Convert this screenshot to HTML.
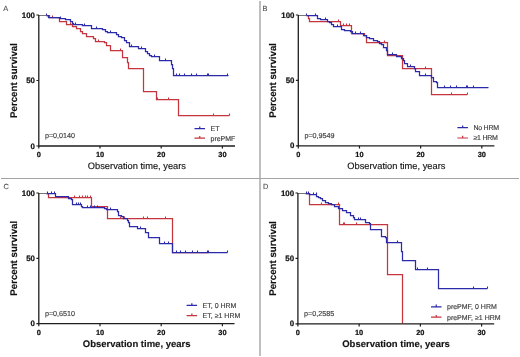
<!DOCTYPE html><html><head><meta charset="utf-8"><style>html,body{margin:0;padding:0;background:#fff;}svg{display:block;will-change:transform;}text{font-family:"Liberation Sans",sans-serif;text-rendering:geometricPrecision;}
.pl{font-size:7.4px;fill:#505050;stroke:#505050;stroke-width:0.12px;}
.yl{font-size:7.9px;font-weight:bold;fill:#111;text-anchor:end;stroke:#111;stroke-width:0.22px;}
.xl{font-size:7.4px;font-weight:bold;fill:#111;text-anchor:middle;stroke:#111;stroke-width:0.22px;}
.yt{font-size:9.7px;font-weight:bold;fill:#111;text-anchor:middle;stroke:#111;stroke-width:0.15px;}
.xt{font-size:9.3px;fill:#151515;text-anchor:middle;stroke:#151515;stroke-width:0.15px;}
.xtb{font-size:9.5px;font-weight:bold;fill:#151515;text-anchor:middle;stroke:#151515;stroke-width:0.15px;}
.pv{font-size:7.2px;fill:#404040;stroke:#404040;stroke-width:0.15px;}
.lg{font-size:7px;fill:#3c3c3c;stroke:#3c3c3c;stroke-width:0.15px;}</style></head><body>
<svg width="520" height="357" viewBox="0 0 520 357">
<rect width="520" height="357" fill="#fff"/>
<rect x="259" y="1" width="2" height="355" fill="#bfbfbf"/>
<rect x="1" y="178" width="518" height="1" fill="#a4a4a4"/>
<text class="pl" x="3.3" y="10.8">A</text>
<path d="M46.5 15.5L49.5 15.5L49.5 17.5L59.5 17.5L59.5 21.5L66.5 21.5L66.5 24.5L72.5 24.5L72.5 26.5L76.5 26.5L76.5 28.5L80.5 28.5L80.5 31.5L82.5 31.5L82.5 33.5L86.5 33.5L86.5 36.5L93.5 36.5L93.5 38.5L95.5 38.5L95.5 41.5L104.5 41.5L104.5 42.5L106.5 42.5L106.5 45.5L110.5 45.5L110.5 50.5L122.5 50.5L122.5 57.5L127.5 57.5L127.5 62.5L128.5 62.5L128.5 68.5L143.5 68.5L143.5 91.5L156.5 91.5L156.5 99.5L178.5 99.5L178.5 115.5L229.5 115.5" fill="none" stroke="#c6343e" stroke-width="1.25" stroke-linejoin="miter"/>
<path d="M157.5 99.5V97.4M168.5 99.5V97.4M213.5 115.5V113.4M229.5 115.5V113.4M52.5 17.5V15.4M70.5 24.5V22.4M98.5 41.5V39.4M120.5 50.5V48.4" stroke="#c6343e" stroke-width="1.1" fill="none"/>
<path d="M46.5 15.5L48.5 15.5L48.5 17.5L59.5 17.5L59.5 18.5L65.5 18.5L65.5 19.5L70.5 19.5L70.5 21.5L72.5 21.5L72.5 23.5L73.5 23.5L73.5 24.5L82.5 24.5L82.5 25.5L91.5 25.5L91.5 28.5L102.5 28.5L102.5 29.5L105.5 29.5L105.5 31.5L107.5 31.5L107.5 32.5L116.5 32.5L116.5 34.5L118.5 34.5L118.5 36.5L121.5 36.5L121.5 37.5L124.5 37.5L124.5 40.5L126.5 40.5L126.5 42.5L129.5 42.5L129.5 46.5L138.5 46.5L138.5 48.5L145.5 48.5L145.5 51.5L147.5 51.5L147.5 53.5L149.5 53.5L149.5 55.5L151.5 55.5L151.5 56.5L159.5 56.5L159.5 60.5L171.5 60.5L171.5 64.5L172.5 64.5L172.5 68.5L173.5 68.5L173.5 75.5L228.5 75.5" fill="none" stroke="#2a2aaa" stroke-width="1.25" stroke-linejoin="miter"/>
<path d="M46.5 15.5V13.4M176.5 75.5V73.4M179.5 75.5V73.4M184.5 75.5V73.4M191.5 75.5V73.4M196.5 75.5V73.4M207.5 75.5V73.4M208.5 75.5V73.4M227.5 75.5V73.4M60.5 18.5V16.4M75.5 24.5V22.4M84.5 25.5V23.4M96.5 28.5V26.4M110.5 32.5V30.4M131.5 46.5V44.4M141.5 48.5V46.4M154.5 56.5V54.4M165.5 60.5V58.4" stroke="#2a2aaa" stroke-width="1.1" fill="none"/>
<path d="M38.8 15.5H46" stroke="#4a4a4a" stroke-width="0.75" fill="none"/>
<path d="M38.8 15V146H235" fill="none" stroke="#1e1e1e" stroke-width="1.3"/>
<path d="M36.4 146H38.8M36.4 80.5H38.8M36.4 15H38.8M38.8 146V148.6M100 146V148.6M161.2 146V148.6M222.4 146V148.6" stroke="#1e1e1e" stroke-width="1.2" fill="none"/>
<text class="yl" x="35" y="148.6">0</text>
<text class="yl" x="35" y="83.1">50</text>
<text class="yl" x="35" y="17.6">100</text>
<text class="xl" x="38.8" y="157.3">0</text>
<text class="xl" x="100" y="157.3">10</text>
<text class="xl" x="161.2" y="157.3">20</text>
<text class="xl" x="222.4" y="157.3">30</text>
<text class="yt" transform="translate(16.8 80.5) rotate(-90)">Percent survival</text>
<text class="xt" x="136.9" y="169.2">Observation time, years</text>
<text class="pv" x="44.9" y="138.3">p=0,0140</text>
<path d="M194.5 128.6H205M199.75 128.6V126.4" stroke="#2a2aaa" stroke-width="1.2" fill="none"/>
<text class="lg" x="210.5" y="131">ET</text>
<path d="M194.5 138.2H205M199.75 138.2V136" stroke="#c6343e" stroke-width="1.2" fill="none"/>
<text class="lg" x="210.5" y="140.6">prePMF</text>
<text class="pl" x="262.5" y="10.8">B</text>
<path d="M306.5 15.5L308.5 15.5L308.5 18.5L309.5 18.5L309.5 21.5L340.5 21.5L340.5 25.5L351.5 25.5L351.5 33.5L364.5 33.5L364.5 35.5L366.5 35.5L366.5 42.5L387.5 42.5L387.5 55.5L402.5 55.5L402.5 68.5L431.5 68.5L431.5 94.5L467.5 94.5" fill="none" stroke="#c6343e" stroke-width="1.25" stroke-linejoin="miter"/>
<path d="M338.5 21.5V19.4M343.5 25.5V23.4M346.5 25.5V23.4M349.5 25.5V23.4M384.5 42.5V40.4M425.5 68.5V66.4M451.5 94.5V92.4M467.5 94.5V92.4" stroke="#c6343e" stroke-width="1.1" fill="none"/>
<path d="M306.5 15.5L307.5 15.5L307.5 15.5L317.5 15.5L317.5 18.5L320.5 18.5L320.5 19.5L327.5 19.5L327.5 21.5L329.5 21.5L329.5 22.5L331.5 22.5L331.5 24.5L333.5 24.5L333.5 26.5L341.5 26.5L341.5 29.5L344.5 29.5L344.5 30.5L350.5 30.5L350.5 31.5L352.5 31.5L352.5 33.5L363.5 33.5L363.5 35.5L366.5 35.5L366.5 37.5L369.5 37.5L369.5 38.5L373.5 38.5L373.5 40.5L377.5 40.5L377.5 41.5L379.5 41.5L379.5 43.5L381.5 43.5L381.5 44.5L383.5 44.5L383.5 47.5L386.5 47.5L386.5 50.5L387.5 50.5L387.5 54.5L396.5 54.5L396.5 56.5L401.5 56.5L401.5 58.5L403.5 58.5L403.5 60.5L404.5 60.5L404.5 63.5L407.5 63.5L407.5 66.5L414.5 66.5L414.5 68.5L415.5 68.5L415.5 71.5L419.5 71.5L419.5 75.5L431.5 75.5L431.5 77.5L433.5 77.5L433.5 81.5L436.5 81.5L436.5 82.5L437.5 82.5L437.5 87.5L488.5 87.5" fill="none" stroke="#2a2aaa" stroke-width="1.25" stroke-linejoin="miter"/>
<path d="M306.5 15.5V13.4M444.5 87.5V85.4M450.5 87.5V85.4M456.5 87.5V85.4M466.5 87.5V85.4M467.5 87.5V85.4M473.5 87.5V85.4M315.5 15.5V13.4M325.5 19.5V17.4M337.5 26.5V24.4M355.5 33.5V31.4M360.5 33.5V31.4M392.5 54.5V52.4M410.5 66.5V64.4M425.5 75.5V73.4" stroke="#2a2aaa" stroke-width="1.1" fill="none"/>
<path d="M298.3 15.5H306" stroke="#4a4a4a" stroke-width="0.75" fill="none"/>
<path d="M298.3 15V145.8H494.4" fill="none" stroke="#1e1e1e" stroke-width="1.3"/>
<path d="M295.9 145.8H298.3M295.9 80.4H298.3M295.9 15H298.3M298.3 145.8V148.4M359.47 145.8V148.4M420.63 145.8V148.4M481.8 145.8V148.4" stroke="#1e1e1e" stroke-width="1.2" fill="none"/>
<text class="yl" x="294.5" y="148.4">0</text>
<text class="yl" x="294.5" y="83">50</text>
<text class="yl" x="294.5" y="17.6">100</text>
<text class="xl" x="298.3" y="157.1">0</text>
<text class="xl" x="359.47" y="157.1">10</text>
<text class="xl" x="420.63" y="157.1">20</text>
<text class="xl" x="481.8" y="157.1">30</text>
<text class="yt" transform="translate(276.3 80.4) rotate(-90)">Percent survival</text>
<text class="xt" x="396.35" y="169">Observation time, years</text>
<text class="pv" x="304.4" y="138.1">p=0,9549</text>
<path d="M457.4 127.6H467.9M462.65 127.6V125.4" stroke="#2a2aaa" stroke-width="1.2" fill="none"/>
<text class="lg" x="473.4" y="130" style="letter-spacing:-0.22px">No HRM</text>
<path d="M457.4 138H467.9M462.65 138V135.8" stroke="#c6343e" stroke-width="1.2" fill="none"/>
<text class="lg" x="473.4" y="140.4" style="letter-spacing:-0.22px">≥1 HRM</text>
<text class="pl" x="3.6" y="188.8">C</text>
<path d="M46.5 193.5L48.5 193.5L48.5 197.5L91.5 197.5L91.5 206.5L107.5 206.5L107.5 218.5L172.5 218.5L172.5 252.5L208.5 252.5" fill="none" stroke="#c6343e" stroke-width="1.25" stroke-linejoin="miter"/>
<path d="M74.5 197.5V195.4M79.5 197.5V195.4M82.5 197.5V195.4M85.5 197.5V195.4M87.5 197.5V195.4M90.5 197.5V195.4M143.5 218.5V216.4M147.5 218.5V216.4M165.5 218.5V216.4M120.5 218.5V216.4M124.5 218.5V216.4" stroke="#c6343e" stroke-width="1.1" fill="none"/>
<path d="M46.5 193.5L48.5 193.5L48.5 193.5L55.5 193.5L55.5 196.5L68.5 196.5L68.5 198.5L71.5 198.5L71.5 199.5L72.5 199.5L72.5 204.5L81.5 204.5L81.5 206.5L82.5 206.5L82.5 207.5L104.5 207.5L104.5 208.5L106.5 208.5L106.5 209.5L117.5 209.5L117.5 211.5L118.5 211.5L118.5 215.5L121.5 215.5L121.5 216.5L123.5 216.5L123.5 218.5L127.5 218.5L127.5 220.5L128.5 220.5L128.5 222.5L129.5 222.5L129.5 226.5L137.5 226.5L137.5 228.5L145.5 228.5L145.5 232.5L148.5 232.5L148.5 237.5L159.5 237.5L159.5 243.5L172.5 243.5L172.5 252.5L227.5 252.5" fill="none" stroke="#2a2aaa" stroke-width="1.25" stroke-linejoin="miter"/>
<path d="M47.5 193.5V191.4M176.5 252.5V250.4M180.5 252.5V250.4M185.5 252.5V250.4M192.5 252.5V250.4M197.5 252.5V250.4M207.5 252.5V250.4M208.5 252.5V250.4M227.5 252.5V250.4M51.5 193.5V191.4M54.5 193.5V191.4M76.5 204.5V202.4M78.5 204.5V202.4M80.5 204.5V202.4M87.5 207.5V205.4M90.5 207.5V205.4M94.5 207.5V205.4M97.5 207.5V205.4M110.5 209.5V207.4M140.5 228.5V226.4M164.5 243.5V241.4M168.5 243.5V241.4" stroke="#2a2aaa" stroke-width="1.1" fill="none"/>
<path d="M38.8 193.5H46.5" stroke="#4a4a4a" stroke-width="0.75" fill="none"/>
<path d="M38.8 193V323.6H234.5" fill="none" stroke="#1e1e1e" stroke-width="1.3"/>
<path d="M36.4 323.6H38.8M36.4 258.3H38.8M36.4 193H38.8M38.8 323.6V326.2M100 323.6V326.2M161.2 323.6V326.2M222.4 323.6V326.2" stroke="#1e1e1e" stroke-width="1.2" fill="none"/>
<text class="yl" x="35" y="326.2">0</text>
<text class="yl" x="35" y="260.9">50</text>
<text class="yl" x="35" y="195.6">100</text>
<text class="xl" x="38.8" y="334.9">0</text>
<text class="xl" x="100" y="334.9">10</text>
<text class="xl" x="161.2" y="334.9">20</text>
<text class="xl" x="222.4" y="334.9">30</text>
<text class="yt" transform="translate(16.8 258.3) rotate(-90)">Percent survival</text>
<text class="xtb" x="136.65" y="346.8">Observation time, years</text>
<text class="pv" x="44.9" y="315.9">p=0,6510</text>
<path d="M186.6 305.4H197.1M191.85 305.4V303.2" stroke="#2a2aaa" stroke-width="1.2" fill="none"/>
<text class="lg" x="202.6" y="307.8">ET, 0 HRM</text>
<path d="M186.6 315.6H197.1M191.85 315.6V313.4" stroke="#c6343e" stroke-width="1.2" fill="none"/>
<text class="lg" x="202.6" y="318">ET, ≥1 HRM</text>
<text class="pl" x="263" y="188.8">D</text>
<path d="M305.5 193.5L309.5 193.5L309.5 204.5L339.5 204.5L339.5 224.5L387.5 224.5L387.5 274.5L402.5 274.5L402.5 323.5" fill="none" stroke="#c6343e" stroke-width="1.25" stroke-linejoin="miter"/>
<path d="M321.5 204.5V202.4M328.5 204.5V202.4M338.5 204.5V202.4M343.5 224.5V222.4M344.5 224.5V222.4M356.5 224.5V222.4" stroke="#c6343e" stroke-width="1.1" fill="none"/>
<path d="M305.5 193.5L309.5 193.5L309.5 194.5L316.5 194.5L316.5 196.5L318.5 196.5L318.5 197.5L320.5 197.5L320.5 198.5L322.5 198.5L322.5 200.5L325.5 200.5L325.5 202.5L328.5 202.5L328.5 203.5L331.5 203.5L331.5 204.5L334.5 204.5L334.5 206.5L338.5 206.5L338.5 208.5L342.5 208.5L342.5 210.5L346.5 210.5L346.5 212.5L350.5 212.5L350.5 215.5L353.5 215.5L353.5 217.5L354.5 217.5L354.5 219.5L365.5 219.5L365.5 222.5L369.5 222.5L369.5 223.5L370.5 223.5L370.5 229.5L381.5 229.5L381.5 236.5L385.5 236.5L385.5 237.5L386.5 237.5L386.5 242.5L401.5 242.5L401.5 251.5L402.5 251.5L402.5 260.5L415.5 260.5L415.5 269.5L438.5 269.5L438.5 288.5L487.5 288.5" fill="none" stroke="#2a2aaa" stroke-width="1.25" stroke-linejoin="miter"/>
<path d="M306.5 193.5V191.4M308.5 193.5V191.4M313.5 194.5V192.4M316.5 194.5V192.4M358.5 219.5V217.4M360.5 219.5V217.4M397.5 242.5V240.4M417.5 269.5V267.4M427.5 269.5V267.4M473.5 288.5V286.4M487.5 288.5V286.4" stroke="#2a2aaa" stroke-width="1.1" fill="none"/>
<path d="M297.9 193.5H305" stroke="#4a4a4a" stroke-width="0.75" fill="none"/>
<path d="M297.9 193V323.8H494.2" fill="none" stroke="#1e1e1e" stroke-width="1.3"/>
<path d="M295.5 323.8H297.9M295.5 258.4H297.9M295.5 193H297.9M297.9 323.8V326.4M359.13 323.8V326.4M420.37 323.8V326.4M481.6 323.8V326.4" stroke="#1e1e1e" stroke-width="1.2" fill="none"/>
<text class="yl" x="294.1" y="326.4">0</text>
<text class="yl" x="294.1" y="261">50</text>
<text class="yl" x="294.1" y="195.6">100</text>
<text class="xl" x="297.9" y="335.1">0</text>
<text class="xl" x="359.13" y="335.1">10</text>
<text class="xl" x="420.37" y="335.1">20</text>
<text class="xl" x="481.6" y="335.1">30</text>
<text class="yt" transform="translate(275.9 258.4) rotate(-90)">Percent survival</text>
<text class="xtb" x="396.05" y="347">Observation time, years</text>
<text class="pv" x="304" y="316.1">p=0,2585</text>
<path d="M431 306.8H441.5M436.25 306.8V304.6" stroke="#2a2aaa" stroke-width="1.2" fill="none"/>
<text class="lg" x="447" y="309.2">prePMF, 0 HRM</text>
<path d="M431 317.1H441.5M436.25 317.1V314.9" stroke="#c6343e" stroke-width="1.2" fill="none"/>
<text class="lg" x="447" y="319.5">prePMF, ≥1 HRM</text>
</svg></body></html>
